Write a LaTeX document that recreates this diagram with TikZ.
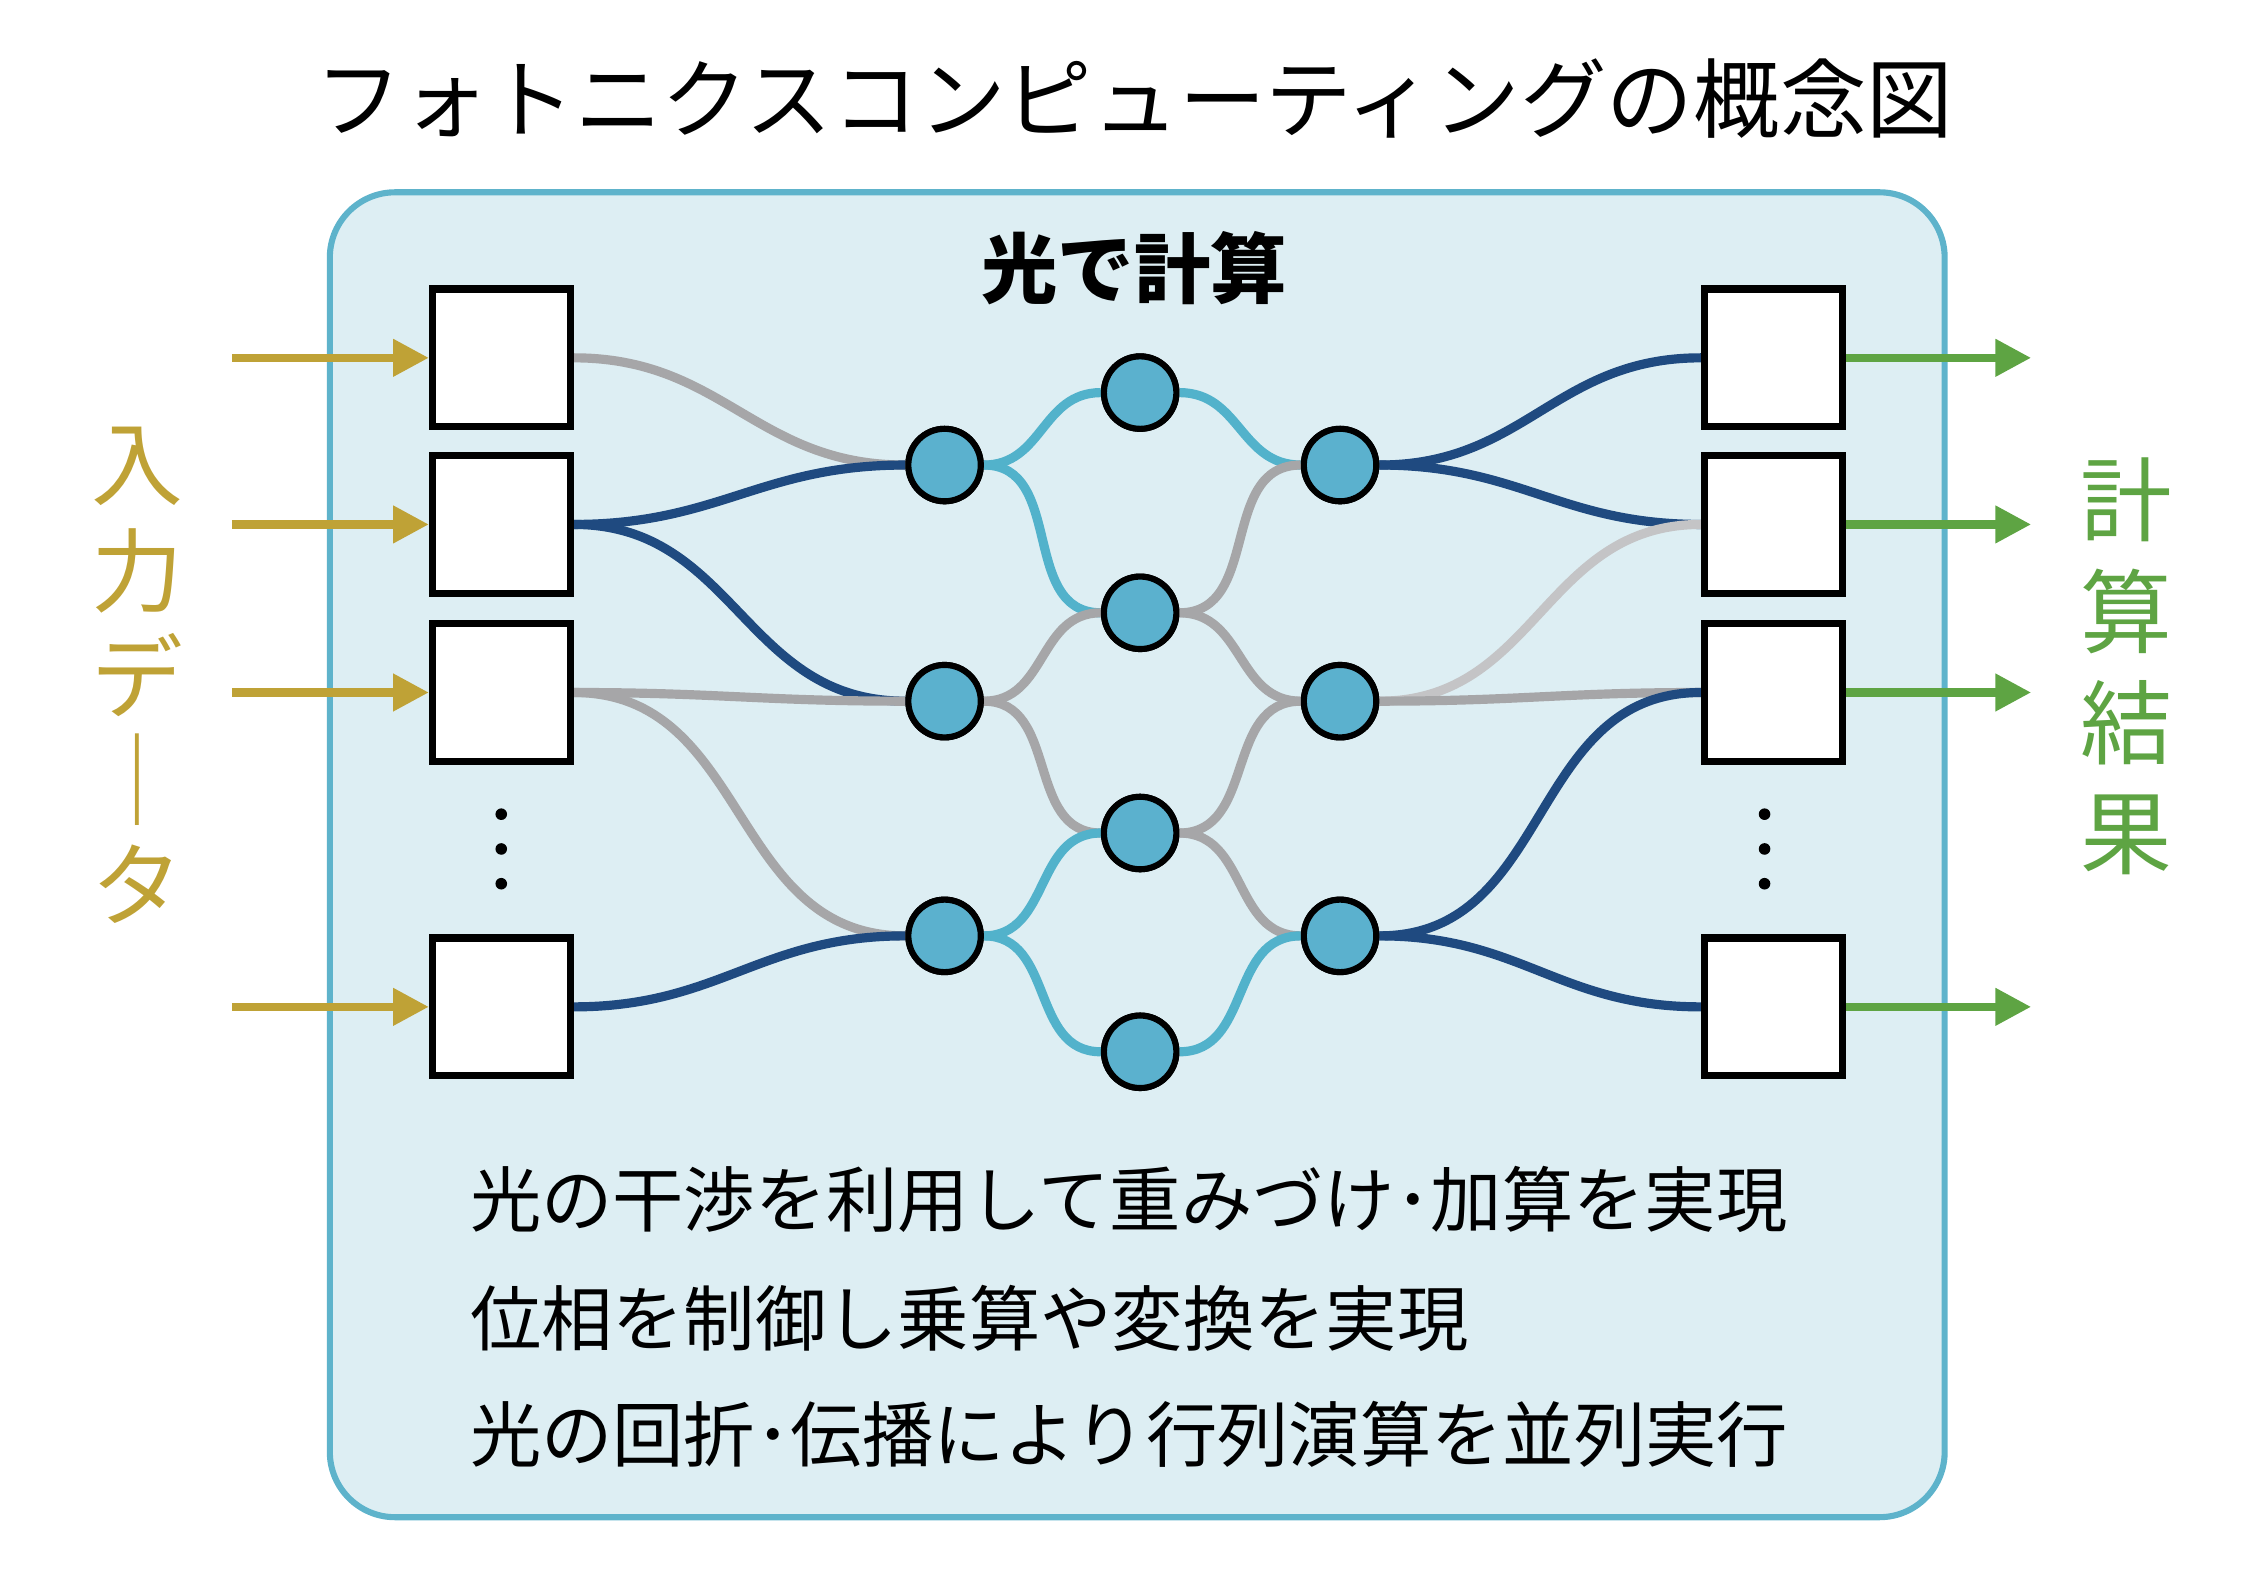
\documentclass[tikz,border=0pt]{standalone}
\usepackage{fontspec}
\setmainfont{Noto Sans CJK JP}
\usepackage{xcolor}
\usetikzlibrary{calc}
\usetikzlibrary{positioning}
\usetikzlibrary{arrows.meta}
\definecolor{boxfill}{HTML}{DDEEF3}
\definecolor{boxline}{HTML}{5EB3CB}
\definecolor{nodefill}{HTML}{5BB1CE}
\definecolor{wgdark}{HTML}{1F4A80}
\definecolor{wglight}{HTML}{52B2CB}
\definecolor{wggray}{HTML}{A6A6A8}
\definecolor{wgpale}{HTML}{C4C4C6}
\definecolor{inyellow}{HTML}{BFA236}
\definecolor{outgreen}{HTML}{5EA443}
\begin{document}
\begin{tikzpicture}[
    x = .01cm,
    y = -.01cm,
    port/.style = {
      rectangle,
      draw=black,
      fill=white,
      line width=1.4pt,
      minimum size=.95cm,
      inner sep=0pt
    },
    coupler/.style = {
      circle,
      draw=black,
      fill=nodefill,
      line width=1.2pt,
      minimum size=.5cm,
      inner sep=0pt
    },
    dot/.style = {
      circle,
      fill=black,
      minimum size=.08cm,
      inner sep=0pt
    },
    wg/.style = {
      line width=1.8pt,
      out=0,
      in=180,
      looseness=1.1
    },
    inarrow/.style = {
      draw=inyellow,
      line width=1.6pt,
      -{Triangle[length=7pt,width=7pt]}
    },
    outarrow/.style = {
      draw=outgreen,
      line width=1.6pt,
      -{Triangle[length=7pt,width=7pt]}
    }
  ]
    \useasboundingbox (0,0) rectangle (1560,1085);

    \node (title) at (783,68) {\fontsize{17}{20}\selectfont フォトニクスコンピューティングの概念図};
    \node[draw=boxline, fill=boxfill, line width=1.2pt, rounded corners=.45cm,
      minimum width=11.14cm, minimum height=9.14cm] (frame) at (785,590) {};
    \node (calc) at (783,185) {\fontsize{15}{18}\selectfont\bfseries 光で計算};

    % ports
    \foreach \i/\y in {1/247, 2/362, 3/478, 4/695} {
      \node[port] (in\i) at (346,\y) {};
      \node[port] (out\i) at (1224,\y) {};
      \coordinate (src\i) at (160,\y);
      \coordinate (dst\i) at (1402,\y);
      \draw[inarrow] (src\i) -- (in\i);
      \draw[outarrow] (out\i) -- (dst\i);
    }
    \foreach \y [count=\k] in {562,586,610} {
      \node[dot] (ldot\k) at (346,\y) {};
      \node[dot] (rdot\k) at (1218,\y) {};
    }

    % couplers
    \foreach \i/\y in {1/321, 2/484, 3/646} {
      \node[coupler] (a\i) at (652,\y) {};
      \node[coupler] (c\i) at (925,\y) {};
    }
    \foreach \i/\y in {1/271, 2/423, 3/575, 4/726}
      \node[coupler] (b\i) at (787,\y) {};

    % waveguides
    \draw[wg, wggray] (in1.east) to (a1.west);
    \draw[wg, wgdark] (in2.east) to (a1.west);
    \draw[wg, wgdark] (in2.east) to (a2.west);
    \draw[wg, wggray] (in3.east) to (a2.west);
    \draw[wg, wggray] (in3.east) to (a3.west);
    \draw[wg, wgdark] (in4.east) to (a3.west);

    \draw[wg, wglight] (a1.east) to (b1.west);
    \draw[wg, wglight] (a1.east) to (b2.west);
    \draw[wg, wggray] (a2.east) to (b2.west);
    \draw[wg, wggray] (a2.east) to (b3.west);
    \draw[wg, wglight] (a3.east) to (b3.west);
    \draw[wg, wglight] (a3.east) to (b4.west);

    \draw[wg, wglight] (b1.east) to (c1.west);
    \draw[wg, wggray] (b2.east) to (c1.west);
    \draw[wg, wggray] (b2.east) to (c2.west);
    \draw[wg, wggray] (b3.east) to (c2.west);
    \draw[wg, wggray] (b3.east) to (c3.west);
    \draw[wg, wglight] (b4.east) to (c3.west);

    \draw[wg, wgdark] (c1.east) to (out1.west);
    \draw[wg, wgdark] (c1.east) to (out2.west);
    \draw[wg, wgpale] (c2.east) to (out2.west);
    \draw[wg, wggray] (c2.east) to (out3.west);
    \draw[wg, wgdark] (c3.east) to (out3.west);
    \draw[wg, wgdark] (c3.east) to (out4.west);

    % redraw couplers and ports on top
    \foreach \i in {1,2,3} {
      \node[coupler] at (a\i) {};
      \node[coupler] at (c\i) {};
    }
    \foreach \i in {1,2,3,4}
      \node[coupler] at (b\i) {};
    \foreach \i in {1,2,3,4} {
      \node[port] at (in\i) {};
      \node[port] at (out\i) {};
    }

    % side labels
    \foreach \ch [count=\k] in {入,力,デ,｜,タ}
      \node[text=inyellow] (inlab\k) at (95,{250+72*\k}) {\fontsize{18}{20}\selectfont \ch};
    \foreach \ch [count=\k] in {計,算,結,果}
      \node[text=outgreen] (outlab\k) at (1468,{268+77*\k}) {\fontsize{18}{20}\selectfont \ch};

    % notes
    \node[anchor=west] (note1) at (312,828) {\fontsize{14}{17}\selectfont 光の干渉を利用して重みづけ･加算を実現};
    \node[anchor=west] (note2) at (312,910) {\fontsize{14}{17}\selectfont 位相を制御し乗算や変換を実現};
    \node[anchor=west] (note3) at (312,990) {\fontsize{14}{17}\selectfont 光の回折･伝播により行列演算を並列実行};

  \end{tikzpicture}
\end{document}
